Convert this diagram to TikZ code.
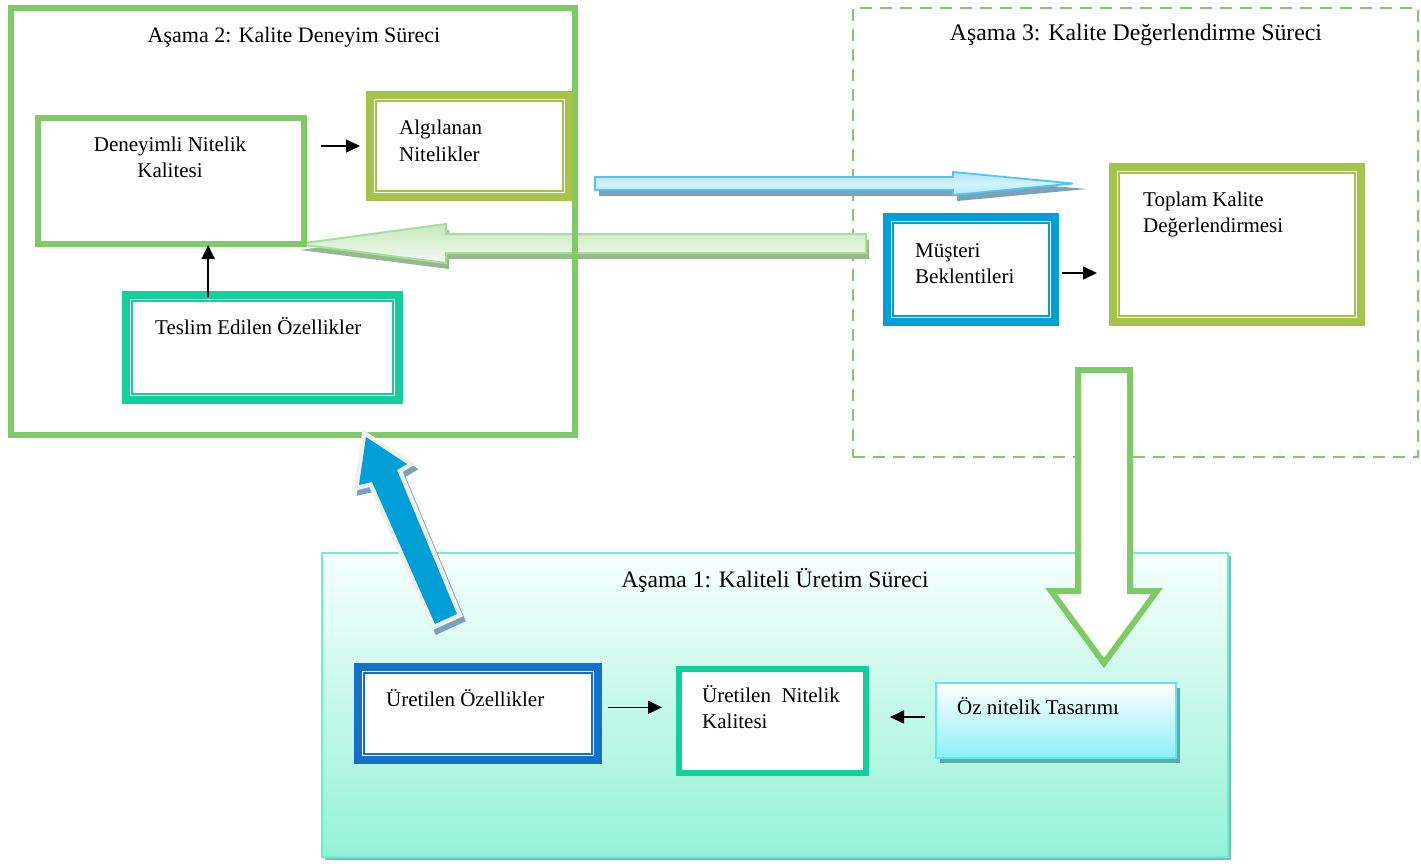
\documentclass[tikz,border=0pt]{standalone}
\usepackage{fontspec}
\setmainfont{Liberation Serif}
\usetikzlibrary{arrows.meta,shadows}
\definecolor{gframe}{RGB}{126,202,100}
\definecolor{olivec}{RGB}{165,195,74}
\definecolor{tealc}{RGB}{20,207,155}
\definecolor{cbluec}{RGB}{0,159,218}
\definecolor{dbluec}{RGB}{21,112,201}
\definecolor{aquab}{RGB}{102,242,204}
\definecolor{aquatop}{RGB}{247,255,253}
\definecolor{aquabot}{RGB}{148,242,216}
\definecolor{aquashadow}{RGB}{110,196,174}
\definecolor{cyanb}{RGB}{92,233,242}
\definecolor{cyanbot}{RGB}{140,240,247}
\definecolor{cyanshadow}{RGB}{94,170,165}
\definecolor{bigblue}{RGB}{0,159,214}
\definecolor{bigedge}{RGB}{240,240,240}
\definecolor{shadowblue}{RGB}{122,163,182}
\definecolor{lbtop}{RGB}{175,228,250}
\definecolor{lbmid}{RGB}{210,242,254}
\definecolor{lbbot}{RGB}{185,232,251}
\definecolor{lbedge}{RGB}{80,196,244}
\definecolor{lgtop}{RGB}{200,233,190}
\definecolor{lgbot}{RGB}{242,250,239}
\definecolor{lgedge}{RGB}{168,220,156}
\definecolor{lgshadow}{RGB}{150,184,140}
\newcommand\innerline[2]{\draw[#2, line width=2pt] ([xshift=10pt,yshift=-10pt]#1.north west) rectangle ([xshift=-10pt,yshift=10pt]#1.south east);}
\begin{document}
\begin{tikzpicture}[x=1pt,y=-1pt,
  conn/.style={line width=1.6pt,-{Triangle[length=14pt,width=13pt]}},
  lbl/.style={inner sep=0pt,font=\fontsize{21}{26}\selectfont,align=left,anchor=base west},
  ttl/.style={inner sep=0pt,anchor=base},
  boxn/.style={rectangle,inner sep=0pt,fill=white},
]
\useasboundingbox[fill=white] (0,0) rectangle (1421,863);

% Asama 3 frame (dashed)
\node[boxn, fill=none, draw=gframe, line width=2.5pt, dash pattern=on 12pt off 8pt,
  minimum width=565pt, minimum height=449pt] (frame3) at (1135.5,232.5) {};

% Asama 1 frame
\node[boxn, draw=aquab, line width=2.5pt, top color=aquatop, bottom color=aquabot,
  drop shadow={shadow xshift=3pt, shadow yshift=-3pt, fill=aquashadow, opacity=1},
  minimum width=906pt, minimum height=304pt] (frame1) at (775,705) {};

% horizontal arrows
\fill[shadowblue] (599,183) -- (957,183) -- (957,178) -- (1087,189) -- (957,201) -- (957,196) -- (599,196) -- cycle;
\shade[top color=lbtop, bottom color=lbbot, middle color=lbmid, draw=lbedge, line width=1.8pt]
  (595,177) -- (953,177) -- (953,172) -- (1073,183.5) -- (953,195) -- (953,190) -- (595,190) -- cycle;
\fill[lgshadow] (869,240) -- (449,240) -- (449,230) -- (300,250) -- (449,269) -- (449,259) -- (869,259) -- cycle;
\shade[top color=lgtop, bottom color=lgbot, draw=lgedge, line width=2pt]
  (866,234) -- (446,234) -- (446,224) -- (297,244) -- (446,263) -- (446,253) -- (866,253) -- cycle;

% Asama 2 frame
\node[boxn, fill=none, draw=gframe, line width=6.5pt,
  minimum width=564pt, minimum height=427pt] (frame2) at (293,221.5) {};

% green down arrow
\draw[gframe, line width=6pt, fill=white, line join=miter]
  (1078,370) -- (1130,370) -- (1130,591) -- (1157,591) -- (1104,663) -- (1051,591) -- (1078,591) -- cycle;

% big blue diagonal arrow
\filldraw[shadowblue, line width=9pt, line join=miter]
  (369,442) -- (410,469) -- (400,475) -- (460,619) -- (438,629) -- (375,487) -- (362,490) -- cycle;
\filldraw[fill=bigblue, draw=bigedge, line width=9pt, line join=miter]
  (366,437) -- (407,464) -- (397,470) -- (457,614) -- (435,624) -- (372,482) -- (359,485) -- cycle;
\fill[bigblue] (366,437) -- (407,464) -- (397,470) -- (457,614) -- (435,624) -- (372,482) -- (359,485) -- cycle;

% boxes
\node[boxn, draw=gframe, line width=6pt, minimum width=266.5pt, minimum height=126pt] (den) at (170.75,181) {};
\node[boxn, draw=olivec, line width=8pt, minimum width=199.5pt, minimum height=102pt] (alg) at (469.25,146) {};
\innerline{alg}{olivec}
\node[boxn, draw=tealc, line width=8pt, minimum width=273pt, minimum height=105pt] (tes) at (262.15,347.5) {};
\innerline{tes}{tealc}
\node[boxn, draw=cbluec, line width=8pt, minimum width=168pt, minimum height=105pt] (mus) at (971,269.5) {};
\innerline{mus}{cbluec}
\node[boxn, draw=olivec, line width=8pt, minimum width=248pt, minimum height=155pt] (topk) at (1237,244.5) {};
\innerline{topk}{olivec}
\node[boxn, draw=dbluec, line width=8pt, minimum width=240.7pt, minimum height=93.3pt] (uoz) at (478,713.35) {};
\innerline{uoz}{dbluec}
\node[boxn, draw=tealc, line width=6pt, minimum width=187pt, minimum height=104pt] (unk) at (772.5,721) {};
\node[boxn, draw=cyanb, line width=2pt, top color=white, bottom color=cyanbot,
  drop shadow={shadow xshift=4pt, shadow yshift=-5pt, fill=cyanshadow, opacity=1},
  minimum width=240pt, minimum height=75pt] (oz) at (1056,720.5) {};

% titles
\node[ttl, font=\fontsize{22}{26}\selectfont] (t2) at (294,42) {Aşama 2: Kalite Deneyim Süreci};
\node[ttl, font=\fontsize{23.8}{28}\selectfont] (t3) at (1136,40) {Aşama 3: Kalite Değerlendirme Süreci};
\node[ttl, font=\fontsize{23.6}{28}\selectfont] (t1) at (775,587) {Aşama 1: Kaliteli Üretim Süreci};

% labels (base anchor = baseline of last line)
\node[lbl, align=center, anchor=base] (denT) at (170,177) {Deneyimli Nitelik\\Kalitesi};
\node[lbl] (algT) at (399,161) {Algılanan\\[1pt]Nitelikler};
\node[lbl] (tesT) at (155,334) {Teslim Edilen Özellikler};
\node[lbl] (musT) at (915,283) {Müşteri\\Beklentileri};
\node[lbl] (topT) at (1143,232) {Toplam Kalite\\Değerlendirmesi};
\node[lbl] (uozT) at (386,706) {Üretilen Özellikler};
\node[lbl] (unkT) at (702,728) {Üretilen\ \ Nitelik\\Kalitesi};
\node[lbl] (ozT) at (957,714) {Öz nitelik Tasarımı};

% connectors
\draw[conn, shorten <=14pt, shorten >=5.5pt] (den.east |- alg.west) -- (alg.west);
\draw[conn, shorten <=-6pt, shorten >=-2pt] ([xshift=-54pt]tes.north) -- ([xshift=-54pt]tes.north |- den.south);
\draw[conn, shorten <=3pt, shorten >=12pt] ([yshift=-3.5pt]mus.east) -- ([yshift=-3.5pt]mus.east -| topk.west);
\draw[conn, shorten <=5.6pt, shorten >=14pt] ([yshift=6pt]uoz.east) -- ([yshift=6pt]uoz.east -| unk.west);
\draw[conn, shorten <=10pt, shorten >=21pt] ([yshift=3.5pt]oz.west) -- ([yshift=3.5pt]oz.west -| unk.east);
\end{tikzpicture}
\end{document}
